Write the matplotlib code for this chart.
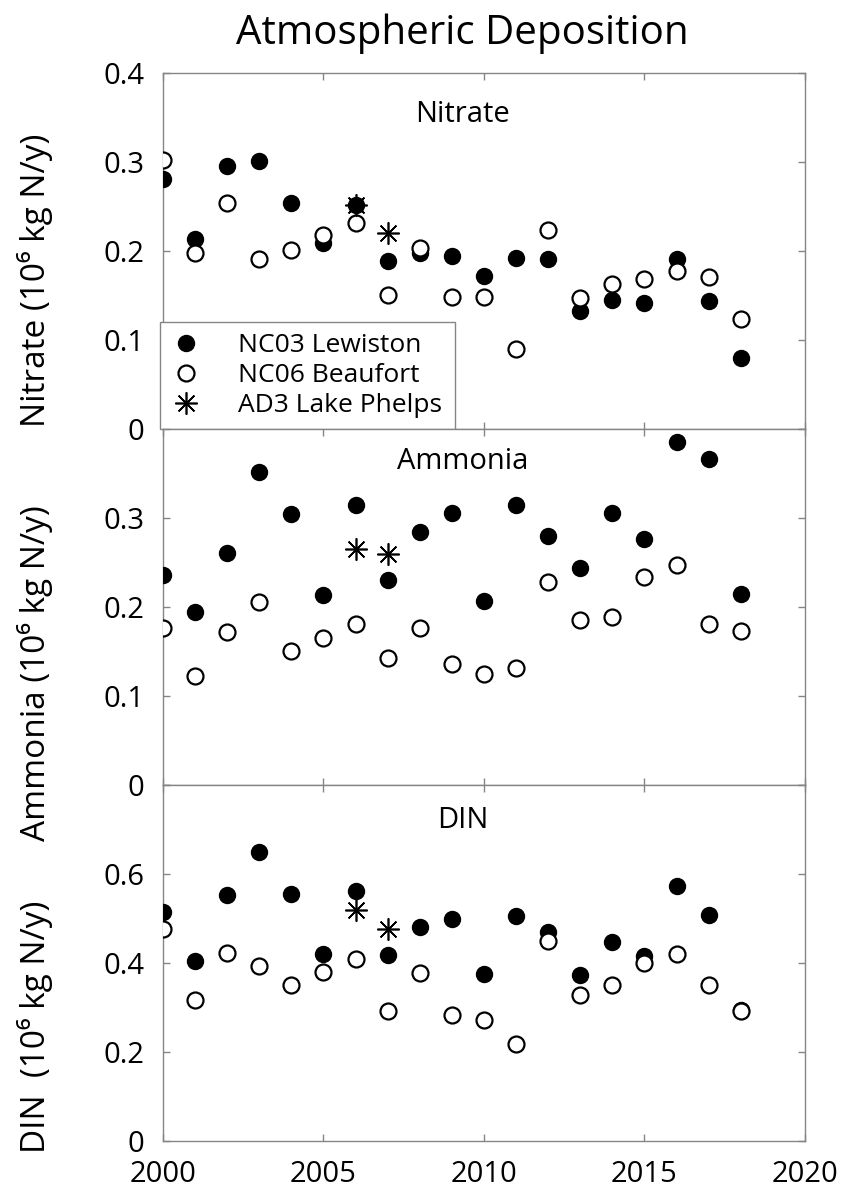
import matplotlib
matplotlib.use('Agg')
import matplotlib.pyplot as plt

# annual deposition, 10^6 kg N/y
years = list(range(2000, 2019))

nitrate_lewiston = [0.281, 0.213, 0.295, 0.301, 0.254, 0.209, 0.252, 0.189, 0.198, 0.194,
                    0.172, 0.192, 0.191, 0.133, 0.145, 0.141, 0.191, 0.144, 0.080]
nitrate_beaufort = [0.302, 0.198, 0.254, 0.191, 0.201, 0.218, 0.231, 0.150, 0.203, 0.148,
                    0.148, 0.090, 0.224, 0.147, 0.163, 0.169, 0.177, 0.171, 0.124]

ammonia_lewiston = [0.236, 0.194, 0.261, 0.352, 0.304, 0.213, 0.314, 0.230, 0.284, 0.306,
                    0.207, 0.315, 0.280, 0.244, 0.306, 0.276, 0.385, 0.366, 0.215]
ammonia_beaufort = [0.176, 0.122, 0.172, 0.205, 0.151, 0.165, 0.181, 0.143, 0.176, 0.136,
                    0.125, 0.131, 0.228, 0.185, 0.189, 0.234, 0.247, 0.181, 0.173]

din_lewiston = [0.515, 0.404, 0.553, 0.650, 0.556, 0.420, 0.562, 0.417, 0.480, 0.498,
                0.376, 0.506, 0.470, 0.374, 0.448, 0.416, 0.574, 0.508, 0.295]
din_beaufort = [0.476, 0.317, 0.423, 0.393, 0.350, 0.380, 0.408, 0.291, 0.377, 0.282,
                0.271, 0.218, 0.450, 0.329, 0.350, 0.401, 0.421, 0.350, 0.293]

phelps_years = [2006, 2007]
nitrate_phelps = [0.252, 0.220]
ammonia_phelps = [0.265, 0.260]
din_phelps = [0.520, 0.477]

names = ['Nitrate', 'Ammonia', 'DIN']
ylabels = ['Nitrate (10\u2076 kg N/y)', 'Ammonia (10\u2076 kg N/y)', 'DIN  (10\u2076 kg N/y)']
yticks = [[0, 0.1, 0.2, 0.3, 0.4], [0, 0.1, 0.2, 0.3, 0.4], [0, 0.2, 0.4, 0.6, 0.8]]
yticklabels = [['0', '0.1', '0.2', '0.3', '0.4'], ['0', '0.1', '0.2', '0.3', ''],
               ['0', '0.2', '0.4', '0.6', '']]
xticks = [2000, 2005, 2010, 2015, 2020]

plt.rcParams['font.family'] = ['Open Sans', 'DejaVu Sans']
grey = '#858585'

fig = plt.figure(figsize=(8.51, 11.94), dpi=100)

lew_sets = [nitrate_lewiston, ammonia_lewiston, din_lewiston]
beau_sets = [nitrate_beaufort, ammonia_beaufort, din_beaufort]
phelps_sets = [nitrate_phelps, ammonia_phelps, din_phelps]
bottoms = [0.6407, 0.3426, 0.0444]
label_y = [0.419, 0.314, 0.320]
name_y = [0.863, 0.888, 0.879]

for i in range(3):
	ax = fig.add_axes([0.1915, bottoms[i], 0.7544, 0.2982])
	h1, = ax.plot(years, lew_sets[i], 'o', color='black', ms=11.5, zorder=3,
		label='NC03 Lewiston')
	h2, = ax.plot(years, beau_sets[i], 'o', mfc='white', mec='black', mew=1.6, ms=11.5,
		zorder=4, label='NC06 Beaufort')
	h3, = ax.plot(phelps_years, phelps_sets[i], ls='none', marker=(8, 2, 0), color='black',
		ms=16, mew=1.2, zorder=5, label='AD3 Lake Phelps')

	ax.set_xlim(2000, 2020)
	ax.set_ylim(yticks[i][0], yticks[i][-1])
	ax.set_xticks(xticks)
	ax.set_yticks(yticks[i], yticklabels[i])
	ax.tick_params(direction='in', top=True, right=True, length=5, width=1,
		color=grey, labelsize=21)
	ax.tick_params(axis='x', pad=14)
	ax.tick_params(axis='y', pad=13.5)
	if i < 2:
		ax.tick_params(labelbottom=False)
	for s in ax.spines.values():
		s.set_color(grey)
		s.set_linewidth(1)

	ax.set_ylabel(ylabels[i], fontsize=24)
	ax.yaxis.set_label_coords(-0.172, label_y[i])
	ax.text(0.467, name_y[i], names[i], transform=ax.transAxes, ha='center',
		va='baseline', fontsize=21)

	if i == 0:
		leg = ax.legend(handles=[h1, h2, h3], loc='lower left',
			bbox_to_anchor=(-0.0047, 0.0, 0.4595, 0.3), mode='expand',
			borderaxespad=0, fontsize=19, handlelength=1.17, handletextpad=1.4,
			labelspacing=0.2, borderpad=0.4, fancybox=False, framealpha=1)
		leg.get_frame().set_edgecolor(grey)
		leg.get_frame().set_linewidth(1)
		leg.set_zorder(10)

fig.text(0.543, 0.963, 'Atmospheric Deposition', ha='center', va='baseline', fontsize=29)

plt.savefig('out.png', dpi=100)
